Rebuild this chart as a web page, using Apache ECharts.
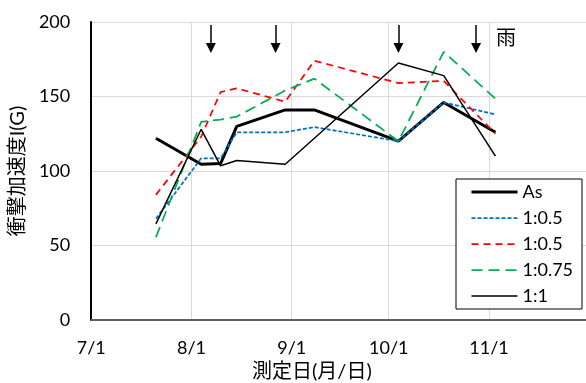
<!DOCTYPE html>
<html>
<head>
<meta charset="utf-8">
<script src="https://cdn.jsdelivr.net/npm/echarts@6/dist/echarts.min.js"></script>
<style>
  html, body { margin: 0; padding: 0; background: #fff; }
  #chart { width: 586px; height: 383px; }
</style>
</head>
<body>
<div id="chart"></div>
<script>
// Measurement dates (month/day) and impact acceleration values (G)
const dates = ['7/21', '8/4', '8/10', '8/15', '8/30', '9/8', '10/4', '10/18', '11/3'];
const seriesAs = [122, 104.5, 105, 130, 141, 141, 120, 146, 126];
const series05Blue = [68, 108.5, 108.5, 126, 126, 129.5, 120, 146, 138];
const series05Red = [84, 123, 153, 155.5, 146.5, 174, 159, 160.5, 125];
const series075 = [55.5, 133, 134.5, 136.5, 154, 162, 120, 180, 148.5];
const series1 = [64.5, 128, 103.5, 107, 104.5, 122, 172.5, 164, 110];

// Legend labels, in series order
const seriesLabels = ['As', '1:0.5', '1:0.5', '1:0.75', '1:1'];

// Axis ticks
const xTickLabels = ['7/1', '8/1', '9/1', '10/1', '11/1'];
const xAxisEnd = '12/1';
const yTicks = [0, 50, 100, 150, 200];

// Rain days (arrows at the top of the plot)
const rainDays = ['8/7', '8/27', '10/4', '10/28'];
const arrowTop = 198;
const arrowTip = 182.5;

// Day offset from 7/1
const monthStart = { 7: 0, 8: 31, 9: 62, 10: 92, 11: 123, 12: 153 };
function toDay(md) {
  const [m, d] = md.split('/').map(Number);
  return monthStart[m] + d - 1;
}

const tickDays = xTickLabels.map(toDay);
const labelByDay = {};
xTickLabels.forEach((t, i) => { labelByDay[tickDays[i]] = t; });

const latin = 'Lato, "Noto Sans CJK JP", sans-serif';

const styles = [
  { color: '#000000', width: 3, type: 'solid' },
  { color: '#0070C0', width: 1.75, type: [4, 2] },
  { color: '#FF0000', width: 1.75, type: [7, 5] },
  { color: '#00B050', width: 1.75, type: [11, 6] },
  { color: '#000000', width: 1.5, type: 'solid' }
];
const values = [seriesAs, series05Blue, series05Red, series075, series1];
const names = seriesLabels.map((l, i) => l + '#' + i);

const lineSeries = values.map((vals, i) => ({
  name: names[i],
  type: 'line',
  symbol: 'none',
  z: 3 + i,
  lineStyle: styles[i],
  itemStyle: { color: styles[i].color },
  data: dates.map((d, j) => [toDay(d), vals[j]])
}));

const chart = echarts.init(document.getElementById('chart'), null, { renderer: 'canvas' });

chart.setOption({
  animation: false,
  backgroundColor: '#ffffff',
  grid: { left: 90, right: -4, top: 22, bottom: 63, containLabel: false },
  xAxis: [{
    type: 'value',
    min: 0,
    max: toDay(xAxisEnd),
    axisLine: { show: true, onZero: false, lineStyle: { color: '#000', width: 2 } },
    axisTick: { show: false, customValues: tickDays },
    axisLabel: {
      customValues: tickDays,
      formatter: v => labelByDay[v] || '',
      fontFamily: latin, fontSize: 18, color: '#000', margin: 19
    },
    splitLine: { show: true, lineStyle: { color: '#d9d9d9', width: 1 } }
  }, {
    type: 'value',
    position: 'top',
    min: 0,
    max: toDay(xAxisEnd),
    axisLine: { show: true, lineStyle: { color: '#808080', width: 1.5 } },
    axisTick: { show: false },
    axisLabel: { show: false },
    splitLine: { show: false },
    z: 5
  }],
  yAxis: {
    type: 'value',
    min: yTicks[0],
    max: yTicks[yTicks.length - 1],
    interval: yTicks[1] - yTicks[0],
    name: '衝撃加速度I(G)',
    nameLocation: 'middle',
    nameRotate: 90,
    nameGap: 54,
    nameTextStyle: { fontFamily: latin, fontSize: 20, color: '#000' },
    axisLine: { show: true, lineStyle: { color: '#000', width: 2 } },
    axisTick: { show: false },
    axisLabel: { fontFamily: latin, fontSize: 18, color: '#000', margin: 21 },
    splitLine: { show: true, lineStyle: { color: '#d9d9d9', width: 1 } }
  },
  legend: {
    data: names.map((n, i) => ({ name: n, lineStyle: { width: styles[i].width } })),
    orient: 'vertical',
    left: 456,
    top: 179,
    padding: [4, 9, 4, 14],
    itemWidth: 46,
    itemHeight: 14,
    itemGap: 8,
    itemStyle: { opacity: 0 },
    borderColor: '#000',
    borderWidth: 1,
    backgroundColor: '#fff',
    formatter: n => n.split('#')[0],
    textStyle: { fontFamily: latin, fontSize: 18, lineHeight: 18, color: '#000' },
    selectedMode: false,
    z: 20
  },
  graphic: [
    {
      type: 'text', left: 252, top: 362, z: 30,
      style: { text: '測定日(月/日)', font: '20px Lato, "Noto Sans CJK JP"', fill: '#000' }
    },
    {
      type: 'text', left: 496, top: 27, z: 30,
      style: { text: '雨', font: '20px "Noto Sans CJK JP"', fill: '#000' }
    }
  ],
  series: lineSeries.concat([{
    type: 'lines',
    coordinateSystem: 'cartesian2d',
    silent: true,
    z: 10,
    symbol: ['none', 'triangle'],
    symbolSize: 10,
    lineStyle: { color: '#000', width: 1.5, opacity: 1, curveness: 0 },
    data: rainDays.map(d => ({ coords: [[toDay(d), arrowTop], [toDay(d), arrowTip]] }))
  }])
});
</script>
</body>
</html>
